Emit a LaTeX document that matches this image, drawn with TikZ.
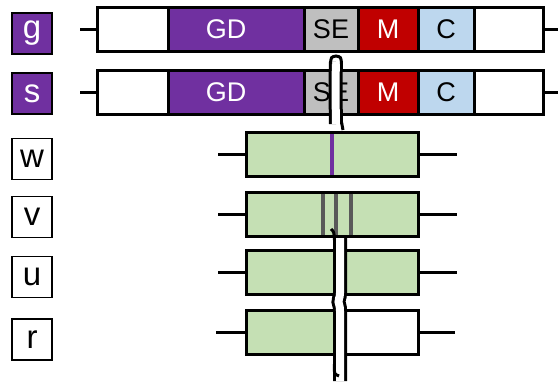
\documentclass[tikz,border=0pt]{standalone}
\usepackage{fontspec}
\setmainfont{Liberation Sans}
\usetikzlibrary{positioning}
\definecolor{gdpurple}{RGB}{112,48,160}
\definecolor{segray}{RGB}{191,191,191}
\definecolor{mred}{RGB}{192,0,0}
\definecolor{cblue}{RGB}{189,215,238}
\definecolor{bargreen}{RGB}{197,224,180}
\definecolor{markgray}{RGB}{89,89,89}
\tikzset{
	tag/.style={
		draw, line width=1.8pt, minimum width=40pt, minimum height=41pt,
		inner sep=0pt, font=\fontsize{33}{34}\selectfont
	},
	tagfill/.style={tag, fill=gdpurple, text=white},
	seg/.style={
		draw, line width=3pt, minimum width=#1, minimum height=44pt,
		inner sep=0pt, outer sep=0pt, font=\fontsize{27}{28}\selectfont
	},
	stub/.style={line width=3pt},
	markline/.style={line width=3.6pt, shorten >=1.5pt, shorten <=1.5pt},
	cutline/.style={line width=3pt, double=white, double distance=8pt},
	cutend/.style={line width=3pt}
}
\begin{document}
\begin{tikzpicture}[x=1pt,y=-1pt]
				\useasboundingbox (0,0) rectangle (558,381);
				% row labels
				\node[tagfill] (gtag) at (32,33.5) {g};
				\node[tagfill] (stag) at (32,93.5) {s};
				\node[tag]     (wtag) at (32,159) {w};
				\node[tag]     (vtag) at (32,217) {v};
				\node[tag]     (utag) at (32,277) {u};
				\node[tag]     (rtag) at (32,339.5) {r};
				% g
				\node[seg=71pt, fill=white, anchor=west] (gA) at (97,29.5) {};
				\node[seg=136pt, fill=gdpurple, text=white, right=0pt of gA] (gB) {\hspace*{-20pt}GD};
				\node[seg=54pt, fill=segray, right=0pt of gB] (gC) {SE};
				\node[seg=60pt, fill=mred, text=white, right=0pt of gC] (gD) {M};
				\node[seg=56pt, fill=cblue, right=0pt of gD] (gE) {C};
				\node[seg=69pt, fill=white, right=0pt of gE] (gF) {};
				\draw[stub] (gA.west) -- +(-17,0);
				\draw[stub] (gF.east) -- +(15,0);
				% s
				\node[seg=71pt, fill=white, anchor=west] (sA) at (97,92) {};
				\node[seg=136pt, fill=gdpurple, text=white, right=0pt of sA] (sB) {\hspace*{-20pt}GD};
				\node[seg=54pt, fill=segray, right=0pt of sB] (sC) {SE};
				\node[seg=60pt, fill=mred, text=white, right=0pt of sC] (sD) {M};
				\node[seg=56pt, fill=cblue, right=0pt of sD] (sE) {C};
				\node[seg=69pt, fill=white, right=0pt of sE] (sF) {};
				\draw[stub] (sA.west) -- +(-17,0);
				\draw[stub] (sF.east) -- +(15,0);
				% w, v, u
				\node[seg=172pt, fill=bargreen, anchor=west] (wbar) at (246.5,154.5) {};
				\node[seg=172pt, fill=bargreen, anchor=west] (vbar) at (246.5,214) {};
				\node[seg=172pt, fill=bargreen, anchor=west] (ubar) at (246.5,272.5) {};
				\draw[stub] (wbar.west) -- +(-29,0);
				\draw[stub] (wbar.east) -- +(38,0);
				\draw[stub] (vbar.west) -- +(-29,0);
				\draw[stub] (vbar.east) -- +(38,0);
				\draw[stub] (ubar.west) -- +(-29,0);
				\draw[stub] (ubar.east) -- +(38,0);
				% r
				\node[seg=91.5pt, fill=bargreen, anchor=west] (rA) at (246.5,332.5) {};
				\node[seg=80.5pt, fill=white, right=0pt of rA] (rB) {};
				\draw[stub] (rA.west) -- +(-31,0);
				\draw[stub] (rB.east) -- +(36,0);
				% marks
				\draw[markline, gdpurple] (332,0 |- wbar.north) -- (332,0 |- wbar.south);
				\draw[markline, markgray] (323,0 |- vbar.north) -- (323,0 |- vbar.south);
				\draw[markline, markgray] (336,0 |- vbar.north) -- (336,0 |- vbar.south);
				\draw[markline, markgray] (351,0 |- vbar.north) -- (351,0 |- vbar.south);
				% breaks
				\draw[cutline] (336,62) .. controls (335.5,80) .. (335.5,95) .. controls (335.5,110) .. (336,124);
				\draw[cutend] (330.5,64) .. controls (331,57) .. (336,56) .. controls (341,57) .. (341.5,64);
				\draw[cutend] (341.5,122) -- (343,130);
				\draw[cutline] (340,238) -- (340,293) .. controls (340,299) and (338,298) .. (338.5,302)
					.. controls (339,306) and (340,305) .. (340,311) -- (340,381);
				\draw[cutend] (331,229) .. controls (334,232) .. (334.5,240);
				\draw[cutend] (334.5,364) .. controls (334,374) .. (339,376);
			\end{tikzpicture}
\end{document}
